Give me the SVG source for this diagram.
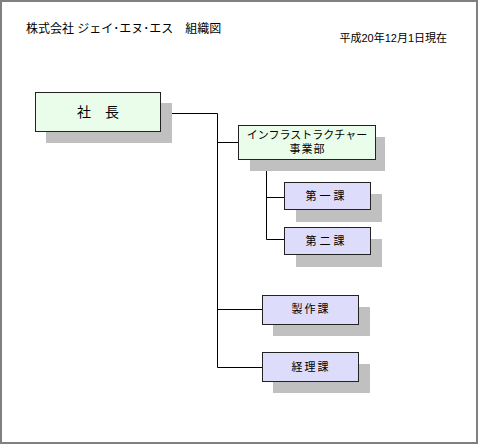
<svg xmlns="http://www.w3.org/2000/svg" width="478" height="444" viewBox="0 0 478 444">
<style>
text{font-family:"Liberation Sans","Noto Sans CJK JP",sans-serif;fill:#000;text-anchor:middle}
.sh{fill:#c0c0c0}
.g{fill:#eafcea;stroke:#222;stroke-width:1}
.b{fill:#ddddfb;stroke:#222;stroke-width:1}
.c{fill:none;stroke:#000;stroke-width:1}
.t{font-size:11px}
.s3{letter-spacing:3px}
.s2{letter-spacing:2px}
</style>
<rect x="1" y="1" width="476" height="442" fill="#fff" stroke="#808080" stroke-width="2"/>
<text x="26" y="33" style="font-size:12px;text-anchor:start">株式会社 ジェイ･エヌ･エス　組織図</text>
<text x="447" y="42" style="font-size:11px;text-anchor:end">平成20年12月1日現在</text>
<g id="connectors">
<path class="c" d="M160.5 113.5H217.5V367.5M217.5 142.5H238M266.5 159V239.5H284M266.5 197.5H284M217.5 309.5H262M217.5 367.5H262"/>
</g>
<g id="president">
<rect class="sh" x="46" y="103" width="126" height="40"/>
<rect class="g" x="35.5" y="92.5" width="125" height="39"/>
<text x="98" y="117" style="font-size:14px">社　長</text>
</g>
<g id="infra">
<rect class="sh" x="250" y="137" width="135" height="34"/>
<rect class="g" x="238.5" y="125.5" width="137" height="34"/>
<text class="t" x="307" y="139">インフラストラクチャー</text>
<text class="t" x="307.5" y="153" style="letter-spacing:1px">事業部</text>
</g>
<g id="sec1">
<rect class="sh" x="296" y="194" width="86" height="28"/>
<rect class="b" x="284.5" y="182.5" width="86" height="27"/>
<text class="t s3" x="326.5" y="200">第一課</text>
</g>
<g id="sec2">
<rect class="sh" x="296" y="239" width="86" height="28"/>
<rect class="b" x="284.5" y="227.5" width="86" height="27"/>
<text class="t s3" x="326.5" y="245">第二課</text>
</g>
<g id="seisaku">
<rect class="sh" x="273" y="307" width="97" height="29"/>
<rect class="b" x="262.5" y="295.5" width="96" height="29"/>
<text class="t s2" x="311" y="313">製作課</text>
</g>
<g id="keiri">
<rect class="sh" x="273" y="364" width="97" height="29"/>
<rect class="b" x="262.5" y="352.5" width="96" height="29"/>
<text class="t s2" x="311" y="371">経理課</text>
</g>
</svg>
